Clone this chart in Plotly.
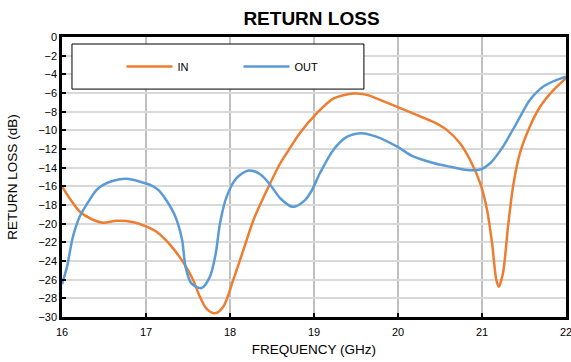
import plotly.graph_objects as go

# Frequency (GHz) and return loss (dB)
in_freq = [16.0, 16.1, 16.21, 16.35, 16.49, 16.65, 16.85, 17.0, 17.13, 17.29, 17.44, 17.56, 17.64, 17.72,
           17.82, 17.92, 18.04, 18.16, 18.28, 18.44, 18.6, 18.7, 18.83, 19.03, 19.23, 19.47, 19.63,
           19.83, 20.02, 20.22, 20.42, 20.58, 20.74, 20.86, 20.98, 21.06, 21.12, 21.17, 21.2, 21.25,
           21.31, 21.37, 21.45, 21.57, 21.69, 21.85, 22.0]
in_db = [-16.0, -17.4, -18.7, -19.5, -19.9, -19.7, -19.85, -20.3, -20.9, -22.3, -24.1, -26.0, -27.8, -29.1,
         -29.6, -28.9, -26.0, -22.8, -19.6, -16.4, -13.5, -12.1, -10.3, -8.2, -6.6, -6.05, -6.2,
         -6.9, -7.6, -8.35, -9.1, -9.95, -11.4, -13.2, -15.7, -18.5, -22.1, -26.0, -26.75, -25.3,
         -20.3, -16.0, -12.5, -9.6, -7.5, -5.7, -4.4]

out_freq = [16.0, 16.06, 16.13, 16.21, 16.29, 16.41, 16.49, 16.61, 16.77, 16.93, 17.05, 17.15, 17.25,
            17.35, 17.43, 17.47, 17.54, 17.66, 17.76, 17.83, 17.88, 17.96, 18.08, 18.22, 18.36, 18.48,
            18.6, 18.75, 18.89, 18.97, 19.07, 19.23, 19.39, 19.57, 19.75, 19.99, 20.18, 20.42, 20.62,
            20.82, 20.98, 21.1, 21.25, 21.41, 21.57, 21.73, 21.89, 22.0]
out_db = [-26.5, -24.6, -21.4, -19.25, -18.0, -16.4, -15.85, -15.4, -15.2, -15.5, -15.85, -16.4, -17.6,
          -19.25, -21.75, -24.6, -26.4, -26.9, -25.7, -23.2, -20.0, -17.1, -15.1, -14.3, -14.7, -15.85,
          -17.3, -18.2, -17.5, -16.5, -14.6, -12.1, -10.7, -10.3, -10.7, -11.75, -12.8, -13.5, -13.9,
          -14.25, -14.2, -13.5, -11.75, -9.25, -6.75, -5.3, -4.6, -4.25]

x_ticks = [16, 17, 18, 19, 20, 21, 22]
y_ticks = list(range(0, -32, -2))

FONT = "Liberation Sans, Arial, sans-serif"

fig = go.Figure()
fig.add_trace(go.Scatter(x=in_freq, y=in_db, mode="lines", name="IN",
                         line=dict(color="#ED7D31", width=2.5, shape="spline", smoothing=0.8)))
fig.add_trace(go.Scatter(x=out_freq, y=out_db, mode="lines", name="OUT",
                         line=dict(color="#5B9BD5", width=2.5, shape="spline", smoothing=0.8)))

# legend frame
fig.add_shape(type="rect", xref="paper", yref="paper", x0=0.0198, x1=0.599, y0=0.814, y1=0.975,
              line=dict(color="black", width=1), fillcolor="white", layer="above")

fig.update_layout(
    width=571, height=362,
    margin=dict(l=62, r=5, t=37, b=45),
    paper_bgcolor="white", plot_bgcolor="white",
    font=dict(family=FONT, color="#000000", size=11),
    title=dict(text="<b>RETURN LOSS</b>", x=0.5455, xanchor="center", y=0.95, yanchor="middle",
               font=dict(size=19, family=FONT)),
    showlegend=True,
    legend=dict(orientation="h", x=0.118, y=0.895, xanchor="left", yanchor="middle",
                bgcolor="rgba(0,0,0,0)", borderwidth=0, font=dict(size=11, family=FONT),
                entrywidth=56, entrywidthmode="pixels", itemwidth=46),
    xaxis=dict(range=[16, 22], tickvals=x_ticks, showgrid=True, gridcolor="#BFBFBF", gridwidth=2,
               showline=True, linecolor="black", linewidth=2.5, mirror=True,
               ticks="inside", ticklen=4, tickcolor="black", tickwidth=2, automargin=False,
               ticklabelstandoff=3, ticklabeloverflow="allow",
               title=dict(text="FREQUENCY (GHz)", font=dict(size=13.5), standoff=8),
               zeroline=False, tickfont=dict(size=11)),
    yaxis=dict(range=[-30, 0], tickvals=y_ticks, showgrid=True, gridcolor="#D9D9D9", gridwidth=1.5,
               showline=True, linecolor="black", linewidth=2.5, mirror=True,
               ticks="inside", ticklen=4, tickcolor="black", tickwidth=2, automargin=False,
               ticklabeloverflow="allow",
               title=dict(text="RETURN LOSS (dB)", font=dict(size=13.5), standoff=18),
               zeroline=False, tickfont=dict(size=11)),
)

fig.write_html("out.html")
